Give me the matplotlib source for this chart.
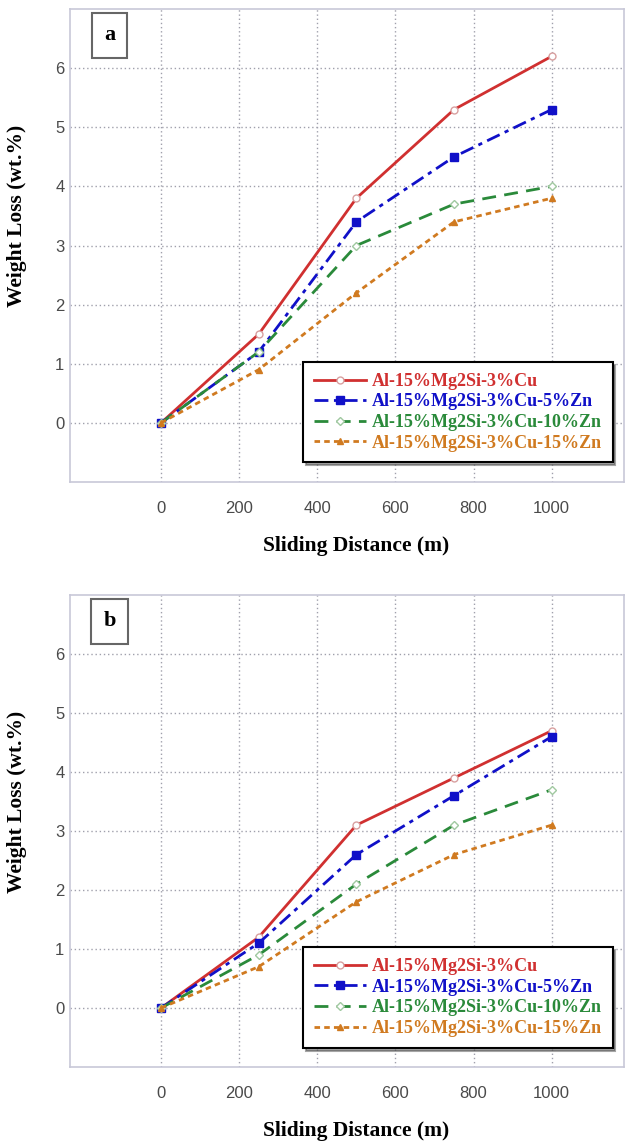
import matplotlib
matplotlib.use("Agg")
import matplotlib.pyplot as plt

distance = [0, 250, 500, 750, 1000]
series_labels = ["Al-15%Mg2Si-3%Cu", "Al-15%Mg2Si-3%Cu-5%Zn",
                 "Al-15%Mg2Si-3%Cu-10%Zn", "Al-15%Mg2Si-3%Cu-15%Zn"]
a_cu = [0, 1.5, 3.8, 5.3, 6.2]
a_zn5 = [0, 1.2, 3.4, 4.5, 5.3]
a_zn10 = [0, 1.2, 3.0, 3.7, 4.0]
a_zn15 = [0, 0.9, 2.2, 3.4, 3.8]
b_cu = [0, 1.2, 3.1, 3.9, 4.7]
b_zn5 = [0, 1.1, 2.6, 3.6, 4.6]
b_zn10 = [0, 0.9, 2.1, 3.1, 3.7]
b_zn15 = [0, 0.7, 1.8, 2.6, 3.1]
xticks = [0, 200, 400, 600, 800, 1000]
yticks = [0, 1, 2, 3, 4, 5, 6]

colors = ["#d03030", "#1010c8", "#2a8a3a", "#d07a20"]
styles = [
    dict(linestyle="-", marker="o", mfc="white", mec="#d8a0a0", ms=5),
    dict(linestyle=(0, (5, 2, 1.5, 2)), marker="s", mfc=None, ms=6),
    dict(linestyle=(0, (5, 3)), marker="D", mfc="white", mec="#a0c8a0", ms=4),
    dict(linestyle=(0, (2, 1.5)), marker="^", mfc=None, ms=5),
]

serif = ["Liberation Serif", "DejaVu Serif"]
sans = ["Liberation Sans", "DejaVu Sans"]

fig = plt.figure(figsize=(6.26, 11.44), dpi=100)
W, H = 626, 1144

def make_panel(top, bottom, data, letter):
    ax = fig.add_axes([70 / W, (H - bottom) / H, 554 / W, (bottom - top) / H])
    for vals, lab, c, st in zip(data, series_labels, colors, styles):
        st = dict(st)
        if st.get("mfc") is None:
            st["mfc"] = c
        st.setdefault("mec", c)
        ax.plot(distance, vals, color=c, lw=2, label=lab, **st)
    ax.set_xlim(-233, 1185)
    ax.set_ylim(-1, 7)
    ax.set_xticks(xticks)
    ax.set_yticks(yticks)
    ax.grid(True, linestyle=(0, (1, 2)), color="#a0a0ac", lw=1)
    ax.tick_params(length=0, labelsize=12, labelcolor="#4a4a4a")
    ax.tick_params(axis="x", pad=14)
    ax.tick_params(axis="y", pad=4)
    for t in ax.get_xticklabels() + ax.get_yticklabels():
        t.set_family(sans)
    for s in ax.spines.values():
        s.set_color("#c8c8d8")
        s.set_linewidth(1.2)
    ax.set_xlabel("Sliding Distance (m)", family=serif, fontweight="bold",
                  fontsize=15.5)
    ax.set_ylabel("Weight Loss (wt.%)", family=serif, fontweight="bold",
                  fontsize=15.5)
    ax.xaxis.set_label_coords(0.516, -0.115)
    ax.yaxis.set_label_coords(-0.078, 0.562)
    ax.text(0.0713, 0.944, letter, transform=ax.transAxes, family=serif,
            fontweight="bold", fontsize=16, ha="center", va="center",
            bbox=dict(boxstyle="square,pad=0.55", fc="white", ec="#666666", lw=1.5))
    leg = ax.legend(loc="upper left", bbox_to_anchor=(0.4206, 0.2537),
                    prop=dict(family=serif, weight="bold", size=13),
                    frameon=True, fancybox=False, shadow=True,
                    edgecolor="black", handlelength=2.9, labelspacing=0.2,
                    borderpad=0.6, handletextpad=0.3, borderaxespad=0)
    leg.get_frame().set_linewidth(1.5)
    for txt, c in zip(leg.get_texts(), colors):
        txt.set_color(c)
    return ax

make_panel(9, 482, [a_cu, a_zn5, a_zn10, a_zn15], "a")
make_panel(595, 1067, [b_cu, b_zn5, b_zn10, b_zn15], "b")

fig.savefig("out.png", dpi=100)
